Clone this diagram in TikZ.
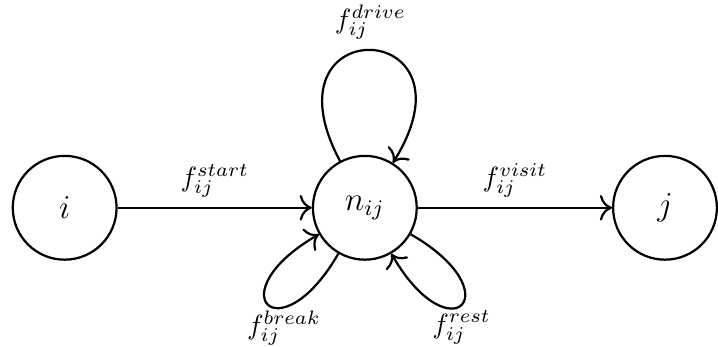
\documentclass[tikz,border=0pt]{standalone}
\usepackage{amsmath,amssymb}
\usepackage{tikz}
\usetikzlibrary{arrows.meta,positioning}
\tikzset{
  >={To[scale=1.3]},
  state/.style={draw, circle, thick, minimum size=1.31cm, inner sep=0pt, font=\large},
  flow/.style={->, thick},
}

\begin{document}
\begin{tikzpicture}[node distance=2.45cm]
  \node[state] (i) {$i$};
  \node[state, right=of i] (n) {$n_{ij}$};
  \node[state, right=of n] (j) {$j$};
  \useasboundingbox (i.center) ++(-0.816,-1.757) rectangle ++(9.009,4.379);
  \draw[flow] (i) -- node[above] {$f_{ij}^{start}$} (n);
  \draw[flow] (n) -- node[above] {$f_{ij}^{visit}$} (j);
  \draw[flow] (n) to[out=118, in=58, looseness=8.3] node[above] {$f_{ij}^{drive}$} (n);
  \draw[flow] (n) to[out=240, in=210, looseness=11] node[below, xshift=2mm, yshift=0.5mm] {$f_{ij}^{break}$} (n);
  \draw[flow] (n) to[out=-30, in=-60, looseness=11] node[below, yshift=0.5mm] {$f_{ij}^{rest}$} (n);
\end{tikzpicture}
\end{document}
